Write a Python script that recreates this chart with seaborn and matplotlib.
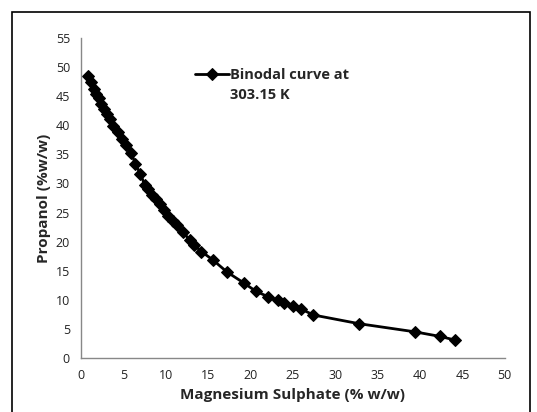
import matplotlib
matplotlib.use("Agg")
import pandas as pd
import seaborn as sns
import matplotlib.pyplot as plt
from matplotlib.patches import Rectangle

# ---------------------------------------
# Data
# ---------------------------------------
mgso4 = [0.8, 1.2, 1.5, 1.8, 2.1, 2.4, 2.7, 3.0, 3.4, 3.8, 4.3, 4.8, 5.3, 5.9,
         6.4, 7.0, 7.5, 7.9, 8.4, 8.8, 9.3, 9.8, 10.3, 10.8, 11.3, 12.0, 12.8,
         13.3, 14.2, 15.6, 17.2, 19.2, 20.6, 22.1, 23.2, 23.9, 25.0, 26.0,
         27.4, 32.8, 39.4, 42.4, 44.1]
propanol = [48.5, 47.4, 46.3, 45.4, 44.6, 43.6, 42.8, 42.0, 41.0, 39.9, 38.8,
            37.6, 36.6, 35.3, 33.4, 31.6, 29.8, 29.0, 28.0, 27.3, 26.4, 25.4,
            24.4, 23.6, 22.9, 21.7, 20.3, 19.5, 18.3, 16.8, 14.8, 12.9, 11.5,
            10.5, 9.9, 9.4, 8.9, 8.4, 7.4, 5.9, 4.5, 3.7, 3.1]
series_name = "Binodal curve at\n303.15 K"
x_ticks = [0, 5, 10, 15, 20, 25, 30, 35, 40, 45, 50]
y_ticks = [0, 5, 10, 15, 20, 25, 30, 35, 40, 45, 50, 55]

df = pd.DataFrame({"x": mgso4, "y": propanol, "series": series_name})

# ---------------------------------------
# Plot
# ---------------------------------------
sns.set_style("white")
plt.rcParams["font.family"] = ["Open Sans", "DejaVu Sans"]

fig = plt.figure(figsize=(5.37, 4.12), dpi=100)
ax = fig.add_axes([0.151, 0.131, 0.789, 0.777])

sns.lineplot(data=df, x="x", y="y", hue="series", palette=["black"],
             marker="D", markersize=6, linewidth=2, sort=False,
             markeredgecolor="black", ax=ax)

ax.set_xlim(0, 50)
ax.set_ylim(0, 55)
ax.set_xticks(x_ticks)
ax.set_yticks(y_ticks)
ax.tick_params(axis="both", length=0, labelsize=9, pad=8, colors="#222222")

ax.set_xlabel("Magnesium Sulphate (% w/w)", fontsize=11, fontweight="bold", labelpad=4)
ax.set_ylabel("Propanol (%w/w)", fontsize=11, fontweight="bold", labelpad=3)

for side in ["top", "right"]:
    ax.spines[side].set_visible(False)
for side in ["left", "bottom"]:
    ax.spines[side].set_color("#888888")
    ax.spines[side].set_linewidth(1)

leg = ax.legend(loc="upper left", bbox_to_anchor=(0.255, 0.925), frameon=False,
                handlelength=2.3, handletextpad=0.1, borderaxespad=0,
                prop={"weight": "bold", "size": 10.5})
for t in leg.get_texts():
    t.set_linespacing(1.55)
# line the legend marker up with the first text line, like the original
for h in leg.legend_handles:
    h.set_ydata([y + 8 for y in h.get_ydata()])

# outer chart frame
fig.patches.append(Rectangle((0.022, -0.05), 0.965, 1.021, transform=fig.transFigure,
                             fill=False, edgecolor="black", linewidth=1.2))

fig.savefig("out.png", dpi=100)
